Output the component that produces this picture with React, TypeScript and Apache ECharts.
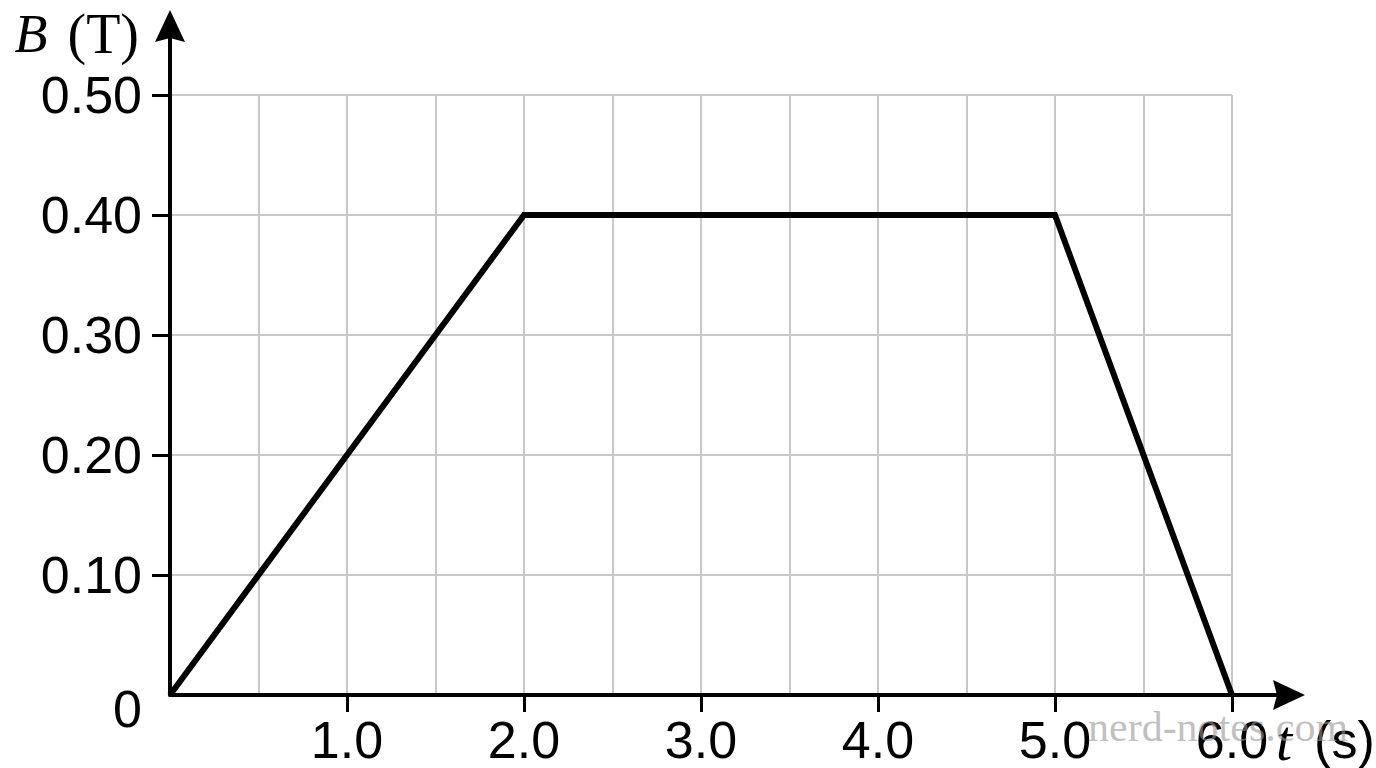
import * as echarts from "echarts";
import { useEffect, useRef } from "react";

// B-field against time
const times = [0, 2.0, 5.0, 6.0];
const field = [0, 0.4, 0.4, 0];

const xTicks = [1.0, 2.0, 3.0, 4.0, 5.0, 6.0];
const yTicks = [0.1, 0.2, 0.3, 0.4, 0.5];
const yLabels = [0, 0.1, 0.2, 0.3, 0.4, 0.5];

const SANS = "Liberation Sans";
const SERIF = "Liberation Serif";
const GRID_COLOR = "#c8c8c8";
const FONT_SIZE = 52;
// plain triangle with a shallow notch, tip at the top
const ARROW = "path://M15,0 L30,32 L15,28 L0,32 Z";

function getOption() {
  return {
    animation: false,
    backgroundColor: "#fff",
    grid: [
      // plot area
      { left: 170, right: 144, top: 95, bottom: 73, outerBoundsMode: "none" },
      // longer area used only for the arrowed axes
      { left: 170, right: 87, top: 26, bottom: 73, outerBoundsMode: "none" },
    ],
    xAxis: [
      {
        type: "value",
        gridIndex: 0,
        min: 0,
        max: 6,
        interval: 1,
        axisLine: { show: false },
        axisTick: {
          show: true,
          customValues: xTicks,
          length: 17,
          lineStyle: { color: "#000", width: 3 },
        },
        axisLabel: {
          customValues: xTicks,
          formatter: (v: number) => v.toFixed(1),
          fontFamily: SANS,
          fontSize: FONT_SIZE,
          color: "#000",
          margin: 19,
        },
        splitLine: { show: true, lineStyle: { color: GRID_COLOR, width: 2 } },
        minorTick: { show: false, splitNumber: 2 },
        minorSplitLine: { show: true, lineStyle: { color: GRID_COLOR, width: 2 } },
      },
      {
        type: "value",
        gridIndex: 1,
        min: 0,
        max: 1,
        axisLine: {
          show: true,
          symbol: ["none", ARROW],
          symbolSize: [30, 32],
          lineStyle: { color: "#000", width: 4 },
        },
        axisTick: { show: false },
        axisLabel: { show: false },
        splitLine: { show: false },
        name: "{i|t}{s|(s)}",
        nameLocation: "end",
        nameGap: -13,
        nameTextStyle: {
          align: "left",
          verticalAlign: "top",
          padding: [18, 0, 0, 0],
          rich: {
            i: {
              fontFamily: SERIF,
              fontStyle: "italic",
              fontSize: 58,
              lineHeight: 54,
              color: "#000",
              padding: [0, 22, 0, 0],
            },
            s: { fontFamily: SANS, fontSize: FONT_SIZE, lineHeight: 54, color: "#000" },
          },
        },
      },
    ],
    yAxis: [
      {
        type: "value",
        gridIndex: 0,
        min: 0,
        max: 0.5,
        interval: 0.1,
        axisLine: { show: false },
        axisTick: {
          show: true,
          customValues: yTicks,
          length: 18,
          lineStyle: { color: "#000", width: 3 },
        },
        axisLabel: {
          customValues: yLabels,
          formatter: (v: number) => (v === 0 ? "{z|0}" : v.toFixed(2)),
          fontFamily: SANS,
          fontSize: FONT_SIZE,
          color: "#000",
          margin: 28,
          rich: {
            z: { fontFamily: SANS, fontSize: FONT_SIZE, color: "#000", padding: [28, 0, 0, 0] },
          },
        },
        splitLine: { show: true, lineStyle: { color: GRID_COLOR, width: 2 } },
      },
      {
        type: "value",
        gridIndex: 1,
        min: 0,
        max: 1,
        axisLine: {
          show: true,
          symbol: ["none", ARROW],
          symbolSize: [30, 32],
          lineStyle: { color: "#000", width: 4 },
        },
        axisTick: { show: false },
        axisLabel: { show: false },
        splitLine: { show: false },
        name: "{i|B}{r|(T)}",
        nameLocation: "end",
        nameGap: -8,
        nameTextStyle: {
          align: "right",
          verticalAlign: "middle",
          padding: [0, 31, 0, 0],
          rich: {
            i: {
              fontFamily: SERIF,
              fontStyle: "italic",
              fontSize: 54,
              color: "#000",
              padding: [0, 20, 0, 0],
            },
            r: { fontFamily: SERIF, fontSize: 56, color: "#000" },
          },
        },
      },
    ],
    series: [
      {
        type: "line",
        xAxisIndex: 0,
        yAxisIndex: 0,
        data: times.map((t, i) => [t, field[i]]),
        symbol: "none",
        clip: false,
        lineStyle: { color: "#000", width: 6, join: "miter" },
        z: 5,
      },
    ],
    graphic: [
      {
        type: "text",
        x: 1088,
        y: 727,
        z: 100,
        style: {
          text: "nerd-notes.com",
          font: `42px "${SERIF}"`,
          fill: "rgba(150,150,150,0.6)",
          verticalAlign: "middle",
        },
      },
    ],
  };
}

export default function App() {
  const containerRef = useRef<HTMLDivElement>(null);

  useEffect(() => {
    document.body.style.margin = "0";
    if (!containerRef.current) return;
    const chart = echarts.init(containerRef.current, undefined, { renderer: "svg" });
    chart.setOption(getOption());
    return () => {
      chart.dispose();
    };
  }, []);

  return <div ref={containerRef} style={{ width: 1376, height: 768 }} />;
}
